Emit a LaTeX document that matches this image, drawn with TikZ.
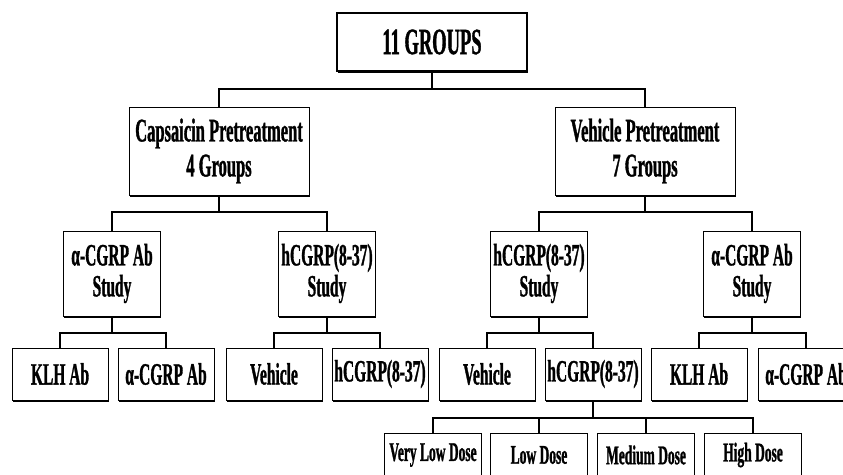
\documentclass[tikz,border=0pt]{standalone}
\usepackage{fontspec}
\setmainfont{Liberation Serif}[FakeStretch=0.5,FakeBold=1]
\usetikzlibrary{shadows}
\begin{document}
\begin{tikzpicture}[x=1pt,y=-1pt,
  box/.style={draw, line width=0.9pt, fill=white, inner sep=0pt, align=center, text=black,
    drop shadow={shadow xshift=0.8pt, shadow yshift=-1.6pt, fill=black, opacity=1}},
  topbox/.style={box, line width=2.6pt, minimum width=190pt, minimum height=58pt,
    font=\bfseries\fontsize{37}{38}\selectfont},
  lvtwo/.style={box, minimum width=180pt, minimum height=88pt,
    font=\bfseries\fontsize{33}{35}\selectfont},
  lvthree/.style={box, minimum width=97pt, minimum height=85pt,
    font=\bfseries\fontsize{31}{31}\selectfont},
  lvfour/.style={box, minimum width=96pt, minimum height=52pt,
    font=\bfseries\fontsize{31}{30}\selectfont},
  lvfive/.style={box, minimum width=97pt, minimum height=44pt,
    font=\bfseries\fontsize{27}{28}\selectfont},
  wire/.style={line width=1.4pt, line cap=rect}]
\path[use as bounding box, fill=white] (0,0) rectangle (843,474);
\clip (0,0) rectangle (843,474);

% buses
\coordinate (b1) at (432,89);
\coordinate (b2l) at (219,212);
\coordinate (b2r) at (645,212);
\coordinate (b3a) at (112,333);
\coordinate (b3b) at (327,333);
\coordinate (b3c) at (539,333);
\coordinate (b3d) at (752,333);
\coordinate (b4) at (593,418);

% nodes
\node[topbox] (top) at (432,42) {11 GROUPS};
\node[lvtwo] (cap) at (219,151) {Capsaicin Pretreatment\\4 Groups};
\node[lvtwo] (veh) at (645,151) {Vehicle Pretreatment\\7 Groups};

\node[lvthree] (s1) at (112,273.5) {α-CGRP Ab\\Study};
\node[lvthree] (s2) at (327,273.5) {hCGRP(8-37)\\Study};
\node[lvthree] (s3) at (539,273.5) {hCGRP(8-37)\\Study};
\node[lvthree] (s4) at (752,273.5) {α-CGRP Ab\\Study};

\node[lvfour] (g1) at (60,374) {KLH Ab};
\node[lvfour] (g2) at (166,374) {α-CGRP Ab};
\node[lvfour] (g3) at (274,374) {Vehicle};
\node[lvfour] (g4) at (380,374) {hCGRP(8-37)};
\node[lvfour] (g5) at (487,374) {Vehicle};
\node[lvfour] (g6) at (593,374) {hCGRP(8-37)};
\node[lvfour] (g7) at (699,374) {KLH Ab};
\node[lvfour] (g8) at (806,374) {α-CGRP Ab};

\node[lvfive] (d1) at (433,455) {Very Low Dose};
\node[lvfive] (d2) at (539,455) {Low Dose};
\node[lvfive] (d3) at (646,455) {Medium Dose};
\node[lvfive] (d4) at (753,455) {High Dose};

% connectors
\draw[wire] (top.south) -- (b1);
\draw[wire] (cap.north) -- (cap.north |- b1) -- (veh.north |- b1) -- (veh.north);

\draw[wire] (cap.south) -- (b2l);
\draw[wire] (s1.north) -- (s1.north |- b2l) -- (s2.north |- b2l) -- (s2.north);
\draw[wire] (veh.south) -- (b2r);
\draw[wire] (s3.north) -- (s3.north |- b2r) -- (s4.north |- b2r) -- (s4.north);

\draw[wire] (s1.south) -- (b3a);
\draw[wire] (g1.north) -- (g1.north |- b3a) -- (g2.north |- b3a) -- (g2.north);
\draw[wire] (s2.south) -- (b3b);
\draw[wire] (g3.north) -- (g3.north |- b3b) -- (g4.north |- b3b) -- (g4.north);
\draw[wire] (s3.south) -- (b3c);
\draw[wire] (g5.north) -- (g5.north |- b3c) -- (g6.north |- b3c) -- (g6.north);
\draw[wire] (s4.south) -- (b3d);
\draw[wire] (g7.north) -- (g7.north |- b3d) -- (g8.north |- b3d) -- (g8.north);

\draw[wire] (g6.south) -- (b4);
\draw[wire] (d1.north) -- (d1.north |- b4) -- (d4.north |- b4) -- (d4.north);
\draw[wire] (d2.north) -- (d2.north |- b4);
\draw[wire] (d3.north) -- (d3.north |- b4);
\end{tikzpicture}
\end{document}
